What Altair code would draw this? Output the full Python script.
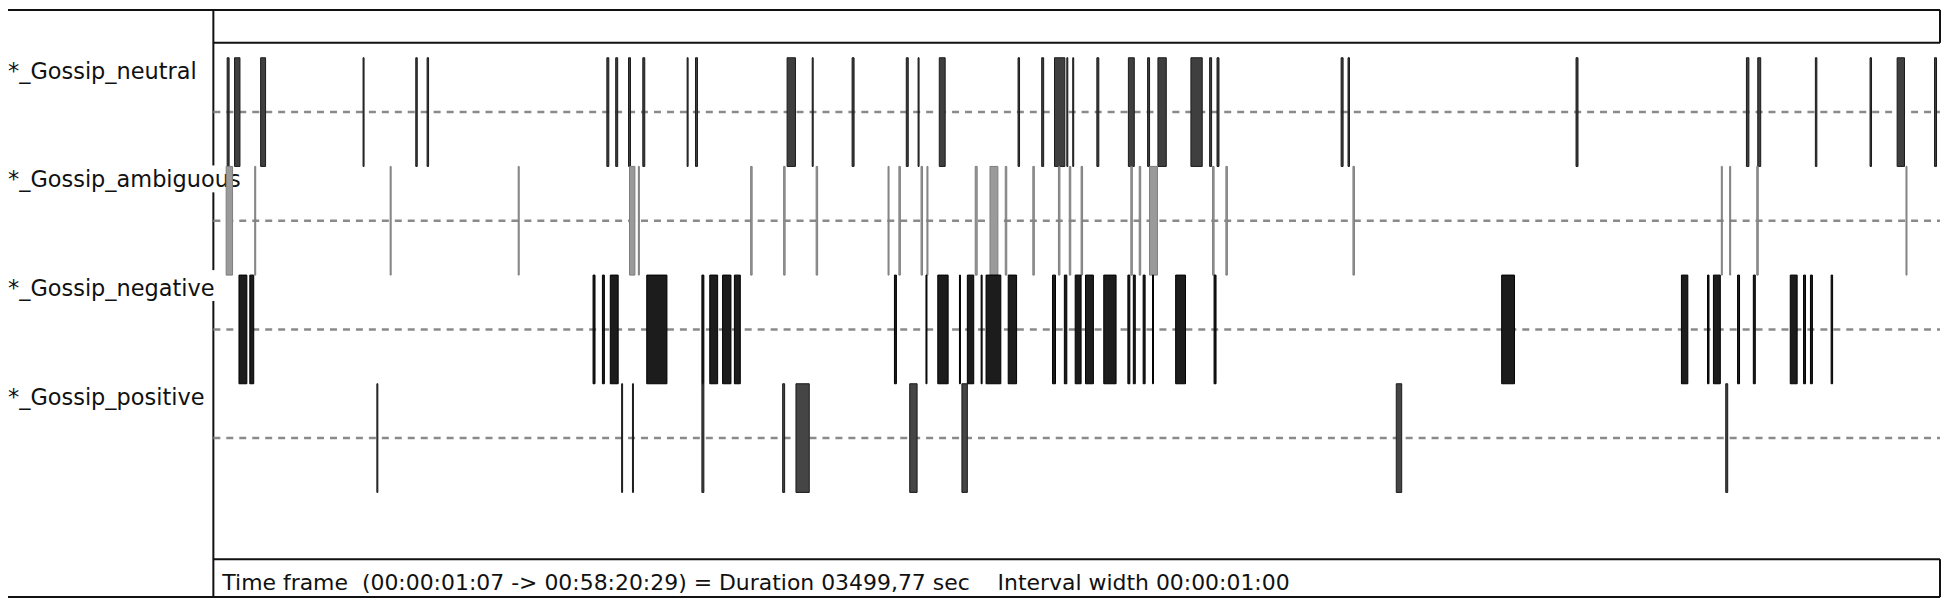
import altair as alt
import pandas as pd

# ---------------- data (seconds within the 3499.77 s time frame) ----------------
ROWS = ["neutral", "ambiguous", "negative", "positive"]
LABELS = ["*_Gossip_neutral", "*_Gossip_ambiguous", "*_Gossip_negative", "*_Gossip_positive"]
FOOTER = "Time frame  (00:00:01:07 -> 00:58:20:29) = Duration 03499,77 sec    Interval width 00:00:01:00"
DURATION = 3500

neutral_start = [28, 43, 96, 304, 411, 434, 799, 817, 843, 872, 962, 979, 1165, 1216, 1297,
                 1407, 1431, 1474, 1634, 1682, 1708, 1733, 1745, 1794, 1858, 1897, 1918, 1985,
                 2023, 2038, 2290, 2304, 2767, 3113, 3136, 3253, 3364, 3419, 3495]
neutral_end = [32, 54, 106, 306, 414, 437, 803, 821, 847, 876, 964, 983, 1182, 1218, 1301,
               1411, 1433, 1486, 1637, 1686, 1729, 1735, 1747, 1798, 1870, 1901, 1935, 2008,
               2027, 2042, 2294, 2307, 2771, 3118, 3142, 3256, 3367, 3434, 3499]

ambiguous_start = [26, 84, 359, 619, 845, 863, 1091, 1158, 1224, 1370, 1392, 1437, 1449, 1547,
                   1577, 1608, 1664, 1716, 1738, 1762, 1863, 1880, 1901, 2029, 2056, 2314,
                   3062, 3079, 3134, 3437]
ambiguous_end = [39, 86, 361, 621, 856, 865, 1094, 1161, 1227, 1372, 1395, 1440, 1451, 1551,
                 1593, 1611, 1667, 1719, 1741, 1765, 1866, 1883, 1917, 2032, 2059, 2317,
                 3064, 3081, 3137, 3439]

negative_start = [52, 74, 771, 790, 806, 880, 992, 1008, 1034, 1058, 1383, 1447, 1471, 1515,
                  1531, 1559, 1569, 1614, 1704, 1728, 1750, 1771, 1808, 1857, 1868, 1888, 1907,
                  1954, 2032, 2616, 2981, 3034, 3046, 3095, 3127, 3202, 3229, 3243, 3285]
negative_end = [68, 82, 775, 794, 822, 921, 996, 1024, 1051, 1070, 1387, 1449, 1492, 1517,
                1544, 1561, 1599, 1631, 1710, 1733, 1762, 1787, 1833, 1861, 1872, 1892, 1909,
                1974, 2036, 2642, 2994, 3037, 3060, 3099, 3131, 3216, 3233, 3247, 3288]

positive_start = [332, 829, 851, 992, 1156, 1183, 1414, 1520, 2402, 3071]
positive_end = [334, 831, 853, 996, 1160, 1210, 1429, 1531, 2413, 3075]

FILLS = ["#3f3f3f", "#9a9a9a", "#1c1c1c", "#454545"]
STROKES = ["#1a1a1a", "#7d7d7d", "#000000", "#1a1a1a"]

# ---------------- tables ----------------
events = []
for row, starts, ends in [("neutral", neutral_start, neutral_end),
                          ("ambiguous", ambiguous_start, ambiguous_end),
                          ("negative", negative_start, negative_end),
                          ("positive", positive_start, positive_end)]:
    for s, e in zip(starts, ends):
        events.append({"row": row, "start": s, "end": e})
events = pd.DataFrame(events)

labels_df = pd.DataFrame({"row": ROWS, "label": LABELS})
guides_df = pd.DataFrame({"row": ROWS, "start": [0] * 4, "end": [DURATION + 6] * 4})

# keep the runs of spaces of the footer visible in SVG
footer_text = FOOTER.replace("  ", "\u00a0\u00a0")

# ---------------- scales ----------------
xscale = alt.Scale(domain=[0, DURATION], range=[206, 1935], nice=False, zero=False)
yscale = alt.Scale(domain=ROWS, range=[49, 485], paddingInner=0, paddingOuter=0)

# ---------------- layers ----------------
labels = alt.Chart(labels_df).mark_text(
    align="left", baseline="alphabetic", dy=21, font="DejaVu Sans", fontSize=22.5,
    color="#111111", limit=237, ellipsis=" "
).encode(
    x=alt.value(0),
    y=alt.Y("row:N", scale=yscale, axis=None, bandPosition=0),
    text="label:N",
)

guides = alt.Chart(guides_df).mark_rule(
    color="#8a8a8a", strokeWidth=2.5, strokeDash=[7, 6]
).encode(
    x=alt.X("start:Q", scale=xscale, axis=None),
    x2="end:Q",
    y=alt.Y("row:N", scale=yscale, axis=None),
)

bars = alt.Chart(events).mark_rect(strokeWidth=1).encode(
    x=alt.X("start:Q", scale=xscale, axis=None),
    x2="end:Q",
    y=alt.Y("row:N", scale=yscale, axis=None),
    color=alt.Color("row:N", scale=alt.Scale(domain=ROWS, range=FILLS), legend=None),
    stroke=alt.Stroke("row:N", scale=alt.Scale(domain=ROWS, range=STROKES), legend=None),
)

# frame of the viewer window (decoration): (x, x2, y, y2) in pixels
FRAME = [
    (0, 1938, 1, 1),        # top outer line
    (206, 1938, 34, 34),    # bottom of the top box
    (1938, 1938, 1, 34),    # right of the top box
    (206, 206, 1, 157),     # left separator
    (206, 206, 184, 262),
    (206, 206, 293, 590),
    (206, 1938, 552, 552),  # top of the footer box
    (0, 1938, 590, 590),    # bottom outer line
    (1938, 1938, 552, 590), # right of the footer box
]
frame_layers = [
    alt.Chart().mark_rule(color="#111111", strokeWidth=2).encode(
        x=alt.value(a), x2=alt.value(b), y=alt.value(c), y2=alt.value(d)
    )
    for a, b, c, d in FRAME
]

footer = alt.Chart().mark_text(
    align="left", baseline="alphabetic", font="DejaVu Sans", fontSize=22, color="#111111"
).encode(x=alt.value(215), y=alt.value(583), text=alt.value(footer_text))

chart = alt.layer(labels, *frame_layers, guides, bars, footer).properties(
    width=1940, height=592,
    autosize=alt.AutoSizeParams(type="none"),
    padding=0,
    background="white",
).configure_view(stroke=None)

chart.save("out.html", embed_options={"renderer": "svg", "actions": False})
